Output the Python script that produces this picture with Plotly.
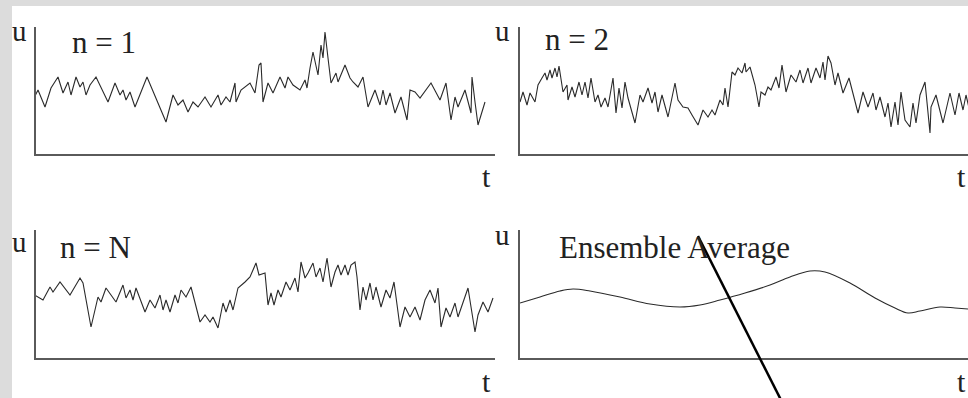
import plotly.graph_objects as go

W, H = 968, 398

# ---- data (t, u) ----
t_n1 = [-4, 2, 9, 15, 22, 27, 32, 35, 40, 44, 47, 50, 54, 60, 72, 79, 84, 87, 90, 94,
        99, 111, 130, 137, 142, 147, 152, 157, 162, 169, 175, 182, 185, 190, 194, 199, 200, 205, 214, 219,
        223, 225, 227, 232, 237, 244, 249, 252, 257, 264, 269, 271, 274, 277, 282, 285, 287, 289, 292, 295,
        300, 302, 309, 314, 317, 322, 327, 332, 339, 344, 347, 350, 354, 359, 365, 371, 374, 379, 384, 390,
        395, 404, 410, 415, 419, 422, 429, 435, 436, 439, 442, 449]
u_n1 = [52, 64, 47, 66, 77, 61, 72, 59, 77, 67, 72, 59, 69, 77, 52, 71, 59, 64, 54, 62,
        47, 77, 32, 59, 49, 54, 42, 52, 47, 57, 47, 59, 49, 57, 52, 71, 52, 64, 71, 61,
        89, 91, 52, 71, 61, 77, 66, 77, 69, 64, 74, 66, 86, 102, 79, 109, 96, 122, 96, 71,
        81, 72, 89, 76, 72, 67, 77, 47, 64, 49, 64, 49, 61, 41, 57, 34, 64, 62, 56, 64,
        71, 54, 71, 34, 57, 47, 64, 41, 77, 52, 29, 52]

t_n2 = [0, 3, 7, 10, 15, 18, 22, 25, 27, 30, 32, 35, 37, 39, 43, 47, 48, 52, 55, 59,
        62, 65, 68, 71, 75, 78, 81, 85, 88, 93, 96, 99, 102, 105, 108, 115, 120, 123, 128, 132,
        135, 138, 142, 148, 155, 158, 163, 168, 172, 178, 183, 188, 192, 195, 200, 203, 205, 208, 212, 215,
        218, 222, 225, 226, 230, 235, 239, 241, 245, 248, 251, 256, 259, 262, 266, 271, 276, 280, 283, 288,
        291, 296, 300, 303, 305, 308, 311, 315, 318, 323, 329, 338, 343, 348, 353, 356, 360, 365, 368, 371,
        375, 378, 381, 385, 390, 393, 396, 400, 405, 407, 410, 411, 416, 423, 430, 435, 439, 443, 446, 450]
u_n2 = [52, 62, 49, 61, 52, 69, 76, 81, 74, 84, 76, 86, 77, 88, 62, 69, 54, 67, 57, 72,
        59, 72, 56, 76, 52, 59, 47, 56, 47, 76, 41, 66, 46, 72, 56, 31, 59, 52, 66, 51,
        62, 42, 59, 37, 71, 54, 47, 46, 39, 29, 44, 37, 44, 39, 54, 49, 66, 47, 82, 79,
        86, 81, 91, 82, 87, 69, 47, 62, 59, 67, 64, 77, 66, 89, 62, 79, 72, 84, 71, 86,
        71, 86, 76, 92, 74, 98, 91, 69, 81, 61, 76, 41, 62, 47, 61, 44, 57, 37, 51, 27,
        52, 29, 62, 34, 27, 51, 31, 59, 72, 51, 21, 47, 59, 31, 61, 39, 61, 44, 59, 42]

t_nN = [-5, 7, 14, 17, 24, 34, 44, 47, 55, 62, 65, 70, 80, 87, 90, 94, 97, 100, 109, 114,
        119, 124, 127, 130, 134, 139, 142, 145, 150, 155, 164, 169, 174, 177, 182, 187, 190, 194, 197, 200,
        202, 209, 214, 220, 223, 229, 232, 235, 238, 242, 245, 250, 254, 259, 262, 265, 269, 272, 277, 280,
        284, 287, 291, 295, 299, 302, 305, 309, 312, 315, 319, 321, 324, 327, 330, 334, 337, 340, 345, 350,
        354, 358, 364, 369, 374, 379, 384, 389, 394, 399, 402, 405, 410, 414, 419, 422, 427, 432, 439, 442,
        447, 452, 457]
u_nN = [65, 58, 71, 66, 76, 63, 80, 75, 31, 61, 56, 70, 56, 73, 60, 68, 58, 70, 46, 58,
        50, 63, 48, 58, 46, 63, 55, 68, 61, 71, 36, 43, 36, 41, 30, 55, 46, 58, 48, 61,
        70, 76, 81, 95, 83, 85, 53, 65, 53, 68, 61, 76, 68, 80, 66, 96, 80, 85, 95, 81,
        90, 76, 100, 71, 86, 93, 83, 93, 83, 93, 96, 81, 48, 71, 58, 75, 58, 71, 51, 68,
        60, 76, 31, 51, 41, 51, 38, 58, 68, 55, 70, 31, 50, 41, 55, 41, 56, 70, 26, 43,
        56, 46, 60]

t_avg = [0, 20, 40, 53, 70, 100, 130, 160, 180, 200, 225, 250, 270, 290, 305, 330, 355, 375, 388, 400,
         420, 435, 448]
u_avg = [55, 61, 67, 69, 67, 61, 54, 51, 53, 58, 65, 73, 81, 87, 86, 75, 60, 50, 45, 47,
         51, 50, 49]

labels = ["n = 1", "n = 2", "n = N", "Ensemble Average"]

# ---- layout helpers (pixel -> paper) ----
def px(x):
    return x / W

def py(y):
    return 1 - y / H

LINE = "#2a2a2a"
AX = "#5a5a5a"
SERIF = "Liberation Serif, Times New Roman, serif"

fig = go.Figure()

panels = [
    # (t, u, xdom px, ydom px (top,bottom), xrange, yrange, spline)
    (t_n1, u_n1, (36, 495), (27, 154), 459, 127, False),
    (t_n2, u_n2, (520, 968), (27, 154), 448, 127, False),
    (t_nN, u_nN, (36, 495), (230, 358), 459, 128, False),
    (t_avg, u_avg, (520, 968), (230, 358), 448, 128, True),
]

layout_axes = {}
for i, (t, u, xd, yd, xr, yr, spl) in enumerate(panels, start=1):
    xa = "x" if i == 1 else f"x{i}"
    ya = "y" if i == 1 else f"y{i}"
    fig.add_trace(go.Scatter(
        x=t, y=u, mode="lines", xaxis=xa, yaxis=ya,
        line=dict(color=LINE, width=1.1, shape="spline" if spl else "linear",
                  smoothing=1.0 if spl else None),
        hoverinfo="skip", showlegend=False,
    ))
    xkey = "xaxis" if i == 1 else f"xaxis{i}"
    ykey = "yaxis" if i == 1 else f"yaxis{i}"
    layout_axes[xkey] = dict(
        domain=[px(xd[0]), min(1.0, px(xd[1]))], range=[0, xr], anchor=ya,
        showline=True, linecolor=AX, linewidth=1.5, showgrid=False, zeroline=False,
        showticklabels=False, ticks="", fixedrange=True,
    )
    layout_axes[ykey] = dict(
        domain=[py(yd[1]), py(yd[0])], range=[0, yr], anchor=xa,
        showline=True, linecolor=AX, linewidth=1.5, showgrid=False, zeroline=False,
        showticklabels=False, ticks="", fixedrange=True,
    )

fig.update_layout(**layout_axes)

def ann(text, x, y, size, xanchor="center"):
    return dict(text=text, x=px(x), y=py(y), xref="paper", yref="paper",
                xanchor=xanchor, yanchor="middle", showarrow=False,
                font=dict(family=SERIF, size=size, color="#222"))

annotations = [
    ann("u", 19, 31, 29), ann(labels[0], 104, 42, 31), ann("t", 486, 176, 30),
    ann("u", 502, 31, 29), ann(labels[1], 577, 39, 31), ann("t", 968, 176, 30, "right"),
    ann("u", 19, 242, 29), ann(labels[2], 95, 247, 31), ann("t", 486, 381, 30),
    ann("u", 503, 235, 29), ann(labels[3], 674, 247, 31), ann("t", 968, 381, 30, "right"),
]

shapes = [
    # gray page border strips
    dict(type="rect", xref="paper", yref="paper", x0=0, x1=1, y0=py(6), y1=1,
         fillcolor="#dcdcdc", line=dict(width=0), layer="below"),
    dict(type="rect", xref="paper", yref="paper", x0=0, x1=px(12), y0=0, y1=1,
         fillcolor="#dcdcdc", line=dict(width=0), layer="below"),
    # pointer line over the ensemble average
    dict(type="line", xref="paper", yref="paper", x0=px(698), y0=py(236),
         x1=px(781), y1=py(400), line=dict(color="#000", width=2.5)),
]

fig.update_layout(
    width=W, height=H, margin=dict(l=0, r=0, t=0, b=0),
    paper_bgcolor="white", plot_bgcolor="rgba(0,0,0,0)",
    annotations=annotations, shapes=shapes, showlegend=False,
)

fig.write_html(
    "out.html",
    config=dict(displayModeBar=False),
    post_script="document.body.style.margin='0';document.body.style.overflow='hidden';",
)
